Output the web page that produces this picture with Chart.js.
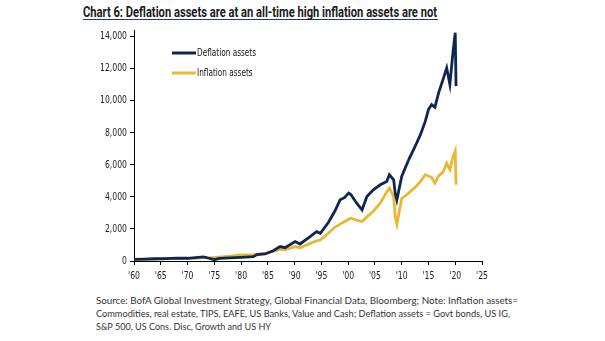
<!DOCTYPE html>
<html lang="en">
<head>
  <meta charset="UTF-8">
  <title>Chart 6: Deflation vs inflation assets</title>
  <script src="https://cdn.jsdelivr.net/npm/chart.js"></script>
  <style>
    body {
      margin: 0;
      padding: 0;
      width: 605px;
      height: 341px;
      background: #ffffff;
      position: relative;
      overflow: hidden;
      font-family: 'Lato', sans-serif;
    }
    /* Title with the navy rule under it */
    .title {
      position: absolute;
      left: 83px;
      top: 1px;
      width: 355px;
      height: 18px;
      border-bottom: 1.5px solid #1d3a6e;
    }
    .title span {
      display: inline-block;
      white-space: nowrap;
      font-family: 'Roboto', sans-serif;
      font-weight: 700;
      font-size: 15px;
      line-height: 17px;
      color: #1a1a1a;
      transform-origin: left center;
    }
    .chart-box {
      position: absolute;
      left: 60px;
      top: 20px;
      width: 450px;
      height: 268px;
    }
    .note {
      position: absolute;
      left: 96px;
      white-space: nowrap;
      font-size: 9.5px;
      line-height: 13px;
      color: #333333;
      transform-origin: left center;
    }
  </style>
</head>
<body>

<div class="title"><span data-w="354">Chart 6: Deflation assets are at an all-time high inflation assets are not</span></div>

<div class="chart-box">
  <canvas id="assetsChart" width="450" height="268"></canvas>
</div>

<div class="note" style="top:294px" data-w="422">Source: BofA Global Investment Strategy, Global Financial Data, Bloomberg; Note: Inflation assets=</div>
<div class="note" style="top:307px" data-w="414">Commodities, real estate, TIPS, EAFE, US Banks, Value and Cash; Deflation assets = Govt bonds, US IG,</div>
<div class="note" style="top:320px" data-w="175">S&amp;P 500, US Cons. Disc, Growth and US HY</div>

<script>
  // === Data ===
  const years = [
    1960, 1962, 1964, 1966, 1968, 1970, 1972, 1973, 1974, 1975,
    1976, 1978, 1980, 1982.3, 1983, 1984.5, 1986, 1987.3, 1988.2, 1990.1,
    1991, 1992.9, 1994.1, 1994.8, 1996.3, 1997.5, 1998.5, 1999.3, 2000.1, 2000.5,
    2001.6, 2002.6, 2003.5, 2004.7, 2006, 2007.2, 2007.7, 2008.5, 2008.8, 2009.1,
    2010, 2011.3, 2012.5, 2013.5, 2014.4, 2015, 2015.6, 2016.2, 2016.9, 2017.8,
    2018.4, 2019, 2019.6, 2020, 2020.15
  ];
  const deflationAssets = [
    100, 115, 140, 150, 185, 170, 230, 260, 170, 80,
    160, 200, 230, 270, 400, 440, 640, 900, 830, 1210,
    1060, 1520, 1830, 1730, 2400, 3100, 3810, 3950, 4230, 4150,
    3600, 3190, 4020, 4440, 4750, 4960, 5375, 5060, 4200, 3800,
    5270, 6310, 7140, 7875, 8700, 9440, 9750, 9580, 10480, 11400,
    12040, 11000, 13080, 14230, 10900
  ];
  const inflationAssets = [
    100, 105, 125, 135, 150, 160, 185, 200, 205, 220,
    245, 300, 375, 400, 430, 480, 600, 730, 690, 900,
    830, 1100, 1250, 1310, 1730, 2100, 2300, 2450, 2600, 2670,
    2550, 2460, 2750, 3100, 3600, 4300, 4540, 4020, 2770, 2300,
    3900, 4230, 4600, 4950, 5375, 5300, 5200, 4850, 5300, 5580,
    6100, 5690, 6500, 6850, 4750
  ];
  const yTicks = [0, 2000, 4000, 6000, 8000, 10000, 12000, 14000];

  const navy = '#0f2552';
  const gold = '#e8b833';
  const labelFont = "11px 'DejaVu Sans Condensed', sans-serif";

  // squeeze HTML text lines to their set widths
  document.querySelectorAll('[data-w]').forEach(function (el) {
    const w = el.getBoundingClientRect().width;
    el.style.transform = 'scaleX(' + (parseFloat(el.dataset.w) / w) + ')';
  });

  // draw text squeezed horizontally by sx, anchored per align
  function narrowText(ctx, text, x, y, sx, align) {
    const w = ctx.measureText(text).width * sx;
    let left = x;
    if (align === 'right') left = x - w;
    else if (align === 'center') left = x - w / 2;
    ctx.save();
    ctx.translate(left, y);
    ctx.scale(sx, 1);
    ctx.textAlign = 'left';
    ctx.fillText(text, 0, 0);
    ctx.restore();
  }

  // narrow tick labels for both axes, placed from the scales
  const narrowTicks = {
    id: 'narrowTicks',
    afterDraw(chart) {
      const ctx = chart.ctx;
      const xs = chart.scales.x;
      const ys = chart.scales.y;
      ctx.save();
      ctx.font = labelFont;
      ctx.fillStyle = '#222222';
      ctx.textBaseline = 'middle';
      const sx = 27 / ctx.measureText('14,000').width;
      ys.ticks.forEach(function (t) {
        narrowText(ctx, t.value.toLocaleString('en-US'), ys.right - 7, ys.getPixelForValue(t.value), sx, 'right');
      });
      xs.ticks.forEach(function (t) {
        narrowText(ctx, "'" + String(t.value).slice(2), xs.getPixelForValue(t.value), xs.top + 15, sx, 'center');
      });
      ctx.restore();
    }
  };

  // legend drawn inside the plot, top-left
  const innerLegend = {
    id: 'innerLegend',
    afterDatasetsDraw(chart) {
      const ctx = chart.ctx;
      const area = chart.chartArea;
      ctx.save();
      ctx.font = labelFont;
      const sx = 59 / ctx.measureText('Deflation assets').width;
      chart.data.datasets.forEach(function (ds, i) {
        const y = area.top + 23 + i * 20;
        ctx.strokeStyle = ds.borderColor;
        ctx.lineWidth = 3;
        ctx.beginPath();
        ctx.moveTo(area.left + 38, y);
        ctx.lineTo(area.left + 62, y);
        ctx.stroke();
        ctx.fillStyle = '#111111';
        ctx.textBaseline = 'middle';
        narrowText(ctx, ds.label, area.left + 63, y, sx, 'left');
      });
      ctx.restore();
    }
  };

  const ctx = document.getElementById('assetsChart').getContext('2d');
  const assetsChart = new Chart(ctx, {
    type: 'line',
    data: {
      datasets: [
        {
          label: 'Deflation assets',
          data: years.map((x, i) => ({ x: x, y: deflationAssets[i] })),
          borderColor: navy,
          borderWidth: 2.8,
          pointRadius: 0,
          tension: 0
        },
        {
          label: 'Inflation assets',
          data: years.map((x, i) => ({ x: x, y: inflationAssets[i] })),
          borderColor: gold,
          borderWidth: 2.8,
          pointRadius: 0,
          tension: 0
        }
      ]
    },
    options: {
      responsive: false,
      animation: false,
      layout: { padding: { top: 10, right: 28, left: 0, bottom: 0 } },
      plugins: {
        legend: { display: false },
        tooltip: { enabled: false }
      },
      scales: {
        x: {
          type: 'linear',
          min: 1960,
          max: 2025,
          grid: { drawOnChartArea: false, drawTicks: true, tickLength: 4, color: '#000' },
          border: { display: true, color: '#000', width: 1 },
          ticks: { stepSize: 5, display: false },
          afterFit: scale => { scale.height = 27; }
        },
        y: {
          min: 0,
          max: 14400,
          grid: { drawOnChartArea: false, drawTicks: true, tickLength: 4, color: '#000' },
          border: { display: true, color: '#000', width: 1 },
          ticks: { display: false },
          afterBuildTicks: scale => { scale.ticks = yTicks.map(v => ({ value: v })); },
          afterFit: scale => { scale.width = 74; }
        }
      }
    },
    plugins: [innerLegend, narrowTicks]
  });
</script>

</body>
</html>
